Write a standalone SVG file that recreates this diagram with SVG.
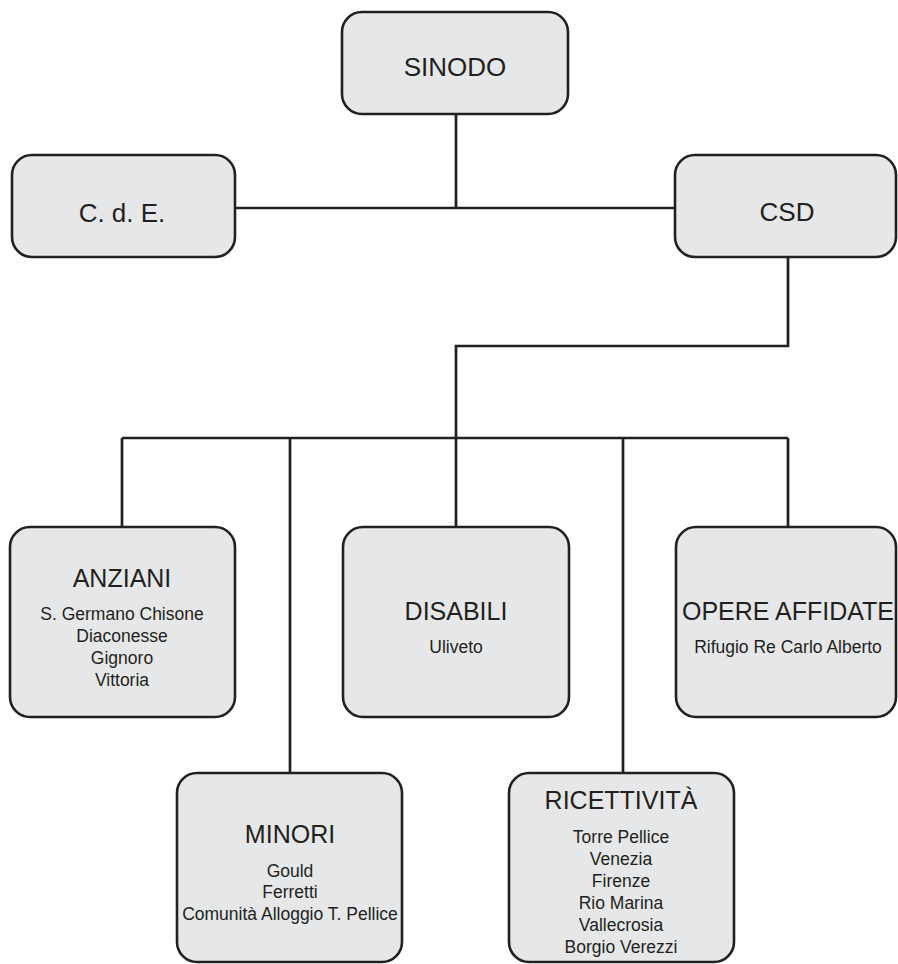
<svg xmlns="http://www.w3.org/2000/svg" width="898" height="964" viewBox="0 0 898 964">
<style>
.box{fill:#e6e7e8;stroke:#231f20;stroke-width:2.6}
.ln{fill:none;stroke:#231f20;stroke-width:2.7}
text{font-family:"Liberation Sans",Arial,sans-serif;fill:#231f20;text-anchor:middle}
.t1{font-size:26px}
.t2{font-size:25px}
.s{font-size:17.5px}
</style>
<rect width="898" height="964" fill="#ffffff"/>
<g id="connectors">
<path class="ln" d="M456 114V208M235 208H675"/>
<path class="ln" d="M788 257V346H456V438"/>
<path class="ln" d="M122 438H788M122 438V527M290 438V773M456 438V527M623 438V773M788 438V527"/>
</g>
<g id="sinodo">
<rect class="box" x="342" y="12" width="226" height="102" rx="20"/>
<text class="t1" x="455" y="76">SINODO</text>
</g>
<g id="cde">
<rect class="box" x="12" y="155" width="223" height="102" rx="20"/>
<text class="t1" x="122" y="222">C. d. E.</text>
</g>
<g id="csd">
<rect class="box" x="675" y="155" width="221" height="102" rx="20"/>
<text class="t1" x="787" y="221">CSD</text>
</g>
<g id="anziani">
<rect class="box" x="10" y="527" width="225" height="190" rx="20"/>
<text class="t2" x="122" y="587">ANZIANI</text>
<text class="s" x="122" y="620">S. Germano Chisone</text>
<text class="s" x="122" y="642">Diaconesse</text>
<text class="s" x="122" y="664">Gignoro</text>
<text class="s" x="122" y="686">Vittoria</text>
</g>
<g id="disabili">
<rect class="box" x="343" y="527" width="226" height="190" rx="20"/>
<text class="t2" x="456" y="620">DISABILI</text>
<text class="s" x="456" y="653">Uliveto</text>
</g>
<g id="opere">
<rect class="box" x="676" y="527" width="220" height="190" rx="20"/>
<text class="t2" x="788" y="620">OPERE AFFIDATE</text>
<text class="s" x="788" y="653">Rifugio Re Carlo Alberto</text>
</g>
<g id="minori">
<rect class="box" x="177" y="773" width="225" height="189" rx="20"/>
<text class="t2" x="290" y="843">MINORI</text>
<text class="s" x="290" y="877">Gould</text>
<text class="s" x="290" y="898">Ferretti</text>
<text class="s" x="290" y="920">Comunità Alloggio T. Pellice</text>
</g>
<g id="ricettivita">
<rect class="box" x="509" y="773" width="225" height="189" rx="20"/>
<text class="t2" x="621" y="809">RICETTIVITÀ</text>
<text class="s" x="621" y="843">Torre Pellice</text>
<text class="s" x="621" y="865">Venezia</text>
<text class="s" x="621" y="887">Firenze</text>
<text class="s" x="621" y="909">Rio Marina</text>
<text class="s" x="621" y="931">Vallecrosia</text>
<text class="s" x="621" y="953">Borgio Verezzi</text>
</g>
</svg>
